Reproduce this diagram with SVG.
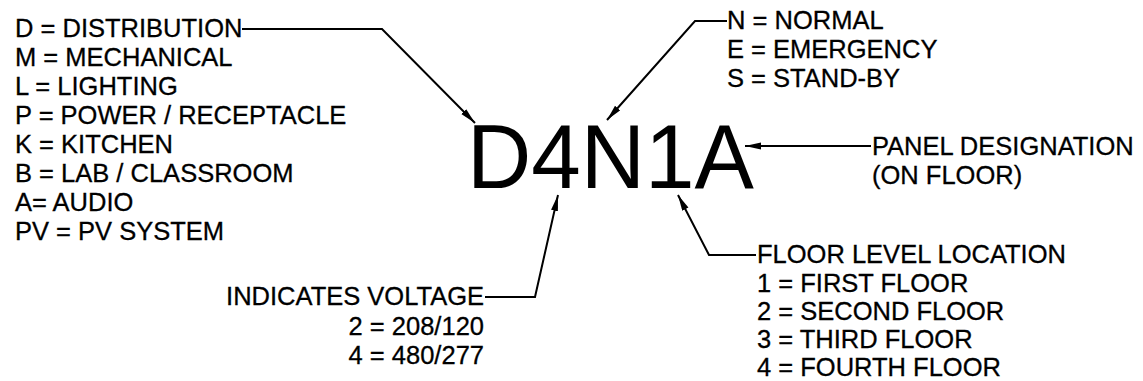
<svg xmlns="http://www.w3.org/2000/svg" width="1143" height="381" viewBox="0 0 1143 381">
<defs>
<style>
text{font-family:"Liberation Sans",Arial,sans-serif;fill:#000}
.t{font-size:25.5px;stroke:#000;stroke-width:0.3}
.big{font-size:91px}
.c{fill:none;stroke:#000;stroke-width:2;stroke-linejoin:miter}
</style>
<marker id="ah" markerUnits="userSpaceOnUse" markerWidth="18" markerHeight="8" refX="16" refY="3.5" orient="auto">
<path d="M0,0 L16,3.5 L0,7 Z" fill="#000"/>
</marker>
</defs>
<rect width="1143" height="381" fill="#fff"/>
<g id="designation"><text class="big" x="467" y="188" textLength="287" lengthAdjust="spacingAndGlyphs">D4N1A</text></g>
<g id="type-legend" class="t">
<text x="15" y="37">D = DISTRIBUTION</text>
<text x="15" y="66">M = MECHANICAL</text>
<text x="15" y="95">L = LIGHTING</text>
<text x="15" y="124">P = POWER / RECEPTACLE</text>
<text x="15" y="153">K = KITCHEN</text>
<text x="15" y="182">B = LAB / CLASSROOM</text>
<text x="15" y="211">A= AUDIO</text>
<text x="15" y="240">PV = PV SYSTEM</text>
</g>
<g id="system-legend" class="t">
<text x="727" y="29">N = NORMAL</text>
<text x="727" y="58">E = EMERGENCY</text>
<text x="727" y="87">S = STAND-BY</text>
</g>
<g id="panel-legend" class="t">
<text x="872" y="155">PANEL DESIGNATION</text>
<text x="872" y="184">(ON FLOOR)</text>
</g>
<g id="voltage-legend" class="t" text-anchor="end">
<text x="484" y="305">INDICATES VOLTAGE</text>
<text x="484" y="335">2 = 208/120</text>
<text x="484" y="364">4 = 480/277</text>
</g>
<g id="floor-legend" class="t">
<text x="757" y="263">FLOOR LEVEL LOCATION</text>
<text x="757" y="292">1 = FIRST FLOOR</text>
<text x="757" y="320">2 = SECOND FLOOR</text>
<text x="757" y="348">3 = THIRD FLOOR</text>
<text x="757" y="376">4 = FOURTH FLOOR</text>
</g>
<g id="connectors" class="c">
<polyline points="242,29 382,29 475,123" marker-end="url(#ah)"/>
<polyline points="727,21 695,21 607,120" marker-end="url(#ah)"/>
<polyline points="871,146 745,146" marker-end="url(#ah)"/>
<polyline points="485,297 535,297 558,195" marker-end="url(#ah)"/>
<polyline points="756,255 709,255 678,195" marker-end="url(#ah)"/>
</g>
</svg>
